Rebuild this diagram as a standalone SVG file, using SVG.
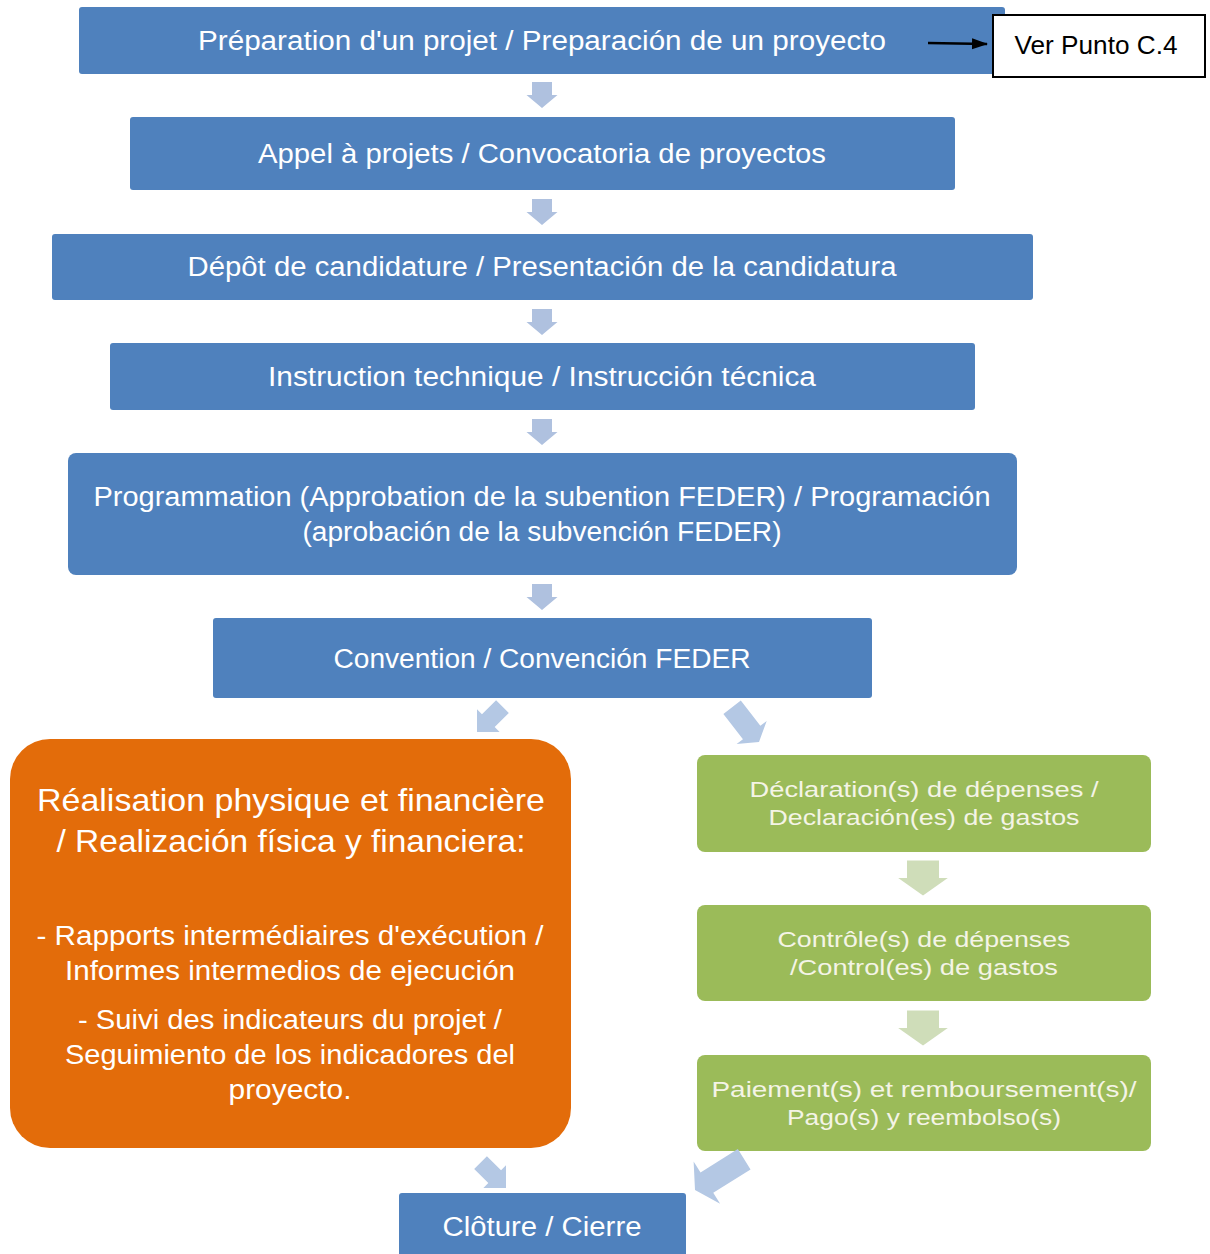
<svg xmlns="http://www.w3.org/2000/svg" width="1210" height="1254" viewBox="0 0 1210 1254">
<defs>
<style>
.blue{fill:#4F81BD}
.green{fill:#9BBB59}
.t{font-family:"Liberation Sans",Arial,sans-serif;fill:#fff;text-anchor:middle}
.tb{font-size:27px}
.to{font-size:32px}
.to2{font-size:27px}
.tg{font-size:22px;fill:#F4F4E6}
.arr{fill:#AFC1DF}
.arrd{fill:#B4C8E4}
.arrg{fill:#CFDDB9}
</style>
<path id="ad" d="M-10,-13 L10,-13 L10,0 L15.5,0 L0,13 L-15.5,0 L-10,0 Z"/>
<marker id="mk" markerWidth="16" markerHeight="12" refX="15" refY="6" orient="auto" markerUnits="userSpaceOnUse">
<path d="M0,0.5 L16,6 L0,11.5 Z" fill="#000"/>
</marker>
</defs>
<rect width="1210" height="1254" fill="#fff"/>

<g id="n1"><rect class="blue" x="79" y="7" width="926" height="67" rx="3"/>
<text class="t tb" x="542" y="50" textLength="688" lengthAdjust="spacingAndGlyphs">Préparation d'un projet / Preparación de un proyecto</text></g>

<g id="nref"><rect x="993" y="15" width="212" height="62" fill="#fff" stroke="#000" stroke-width="2"/>
<text x="1096" y="54" font-family="Liberation Sans, Arial, sans-serif" font-size="26" fill="#000" text-anchor="middle" textLength="163" lengthAdjust="spacingAndGlyphs">Ver Punto C.4</text></g>

<g id="n2"><rect class="blue" x="130" y="117" width="825" height="73" rx="3"/>
<text class="t tb" x="542" y="163" textLength="568" lengthAdjust="spacingAndGlyphs">Appel à projets / Convocatoria de proyectos</text></g>

<g id="n3"><rect class="blue" x="52" y="234" width="981" height="66" rx="3"/>
<text class="t tb" x="542" y="276" textLength="709" lengthAdjust="spacingAndGlyphs">Dépôt de candidature / Presentación de la candidatura</text></g>

<g id="n4"><rect class="blue" x="110" y="343" width="865" height="67" rx="3"/>
<text class="t tb" x="542" y="386" textLength="548" lengthAdjust="spacingAndGlyphs">Instruction technique / Instrucción técnica</text></g>

<g id="n5"><rect class="blue" x="68" y="453" width="949" height="122" rx="8"/>
<text class="t tb" x="542" y="506" textLength="897" lengthAdjust="spacingAndGlyphs">Programmation (Approbation de la subention FEDER) / Programación</text>
<text class="t tb" x="542" y="541" textLength="479" lengthAdjust="spacingAndGlyphs">(aprobación de la subvención FEDER)</text></g>

<g id="n6"><rect class="blue" x="213" y="618" width="659" height="80" rx="3"/>
<text class="t tb" x="542" y="668" textLength="417" lengthAdjust="spacingAndGlyphs">Convention / Convención FEDER</text></g>

<g id="n7"><rect x="10" y="739" width="561" height="409" rx="40" fill="#E36C0A"/>
<text class="t to" x="291" y="811" textLength="508" lengthAdjust="spacingAndGlyphs">Réalisation physique et financière</text>
<text class="t to" x="291" y="852" textLength="469" lengthAdjust="spacingAndGlyphs">/ Realización física y financiera:</text>
<text class="t to2" x="290" y="945" textLength="507" lengthAdjust="spacingAndGlyphs">- Rapports intermédiaires d'exécution /</text>
<text class="t to2" x="290" y="980" textLength="450" lengthAdjust="spacingAndGlyphs">Informes intermedios de ejecución</text>
<text class="t to2" x="290" y="1029" textLength="424" lengthAdjust="spacingAndGlyphs">- Suivi des indicateurs du projet /</text>
<text class="t to2" x="290" y="1064" textLength="450" lengthAdjust="spacingAndGlyphs">Seguimiento de los indicadores del</text>
<text class="t to2" x="290" y="1099" textLength="123" lengthAdjust="spacingAndGlyphs">proyecto.</text></g>

<g id="n8"><rect class="green" x="697" y="755" width="454" height="97" rx="8"/>
<text class="t tg" x="924" y="797" textLength="349" lengthAdjust="spacingAndGlyphs">Déclaration(s) de dépenses /</text>
<text class="t tg" x="924" y="825" textLength="311" lengthAdjust="spacingAndGlyphs">Declaración(es) de gastos</text></g>

<g id="n9"><rect class="green" x="697" y="905" width="454" height="96" rx="8"/>
<text class="t tg" x="924" y="947" textLength="293" lengthAdjust="spacingAndGlyphs">Contrôle(s) de dépenses</text>
<text class="t tg" x="924" y="975" textLength="268" lengthAdjust="spacingAndGlyphs">/Control(es) de gastos</text></g>

<g id="n10"><rect class="green" x="697" y="1055" width="454" height="96" rx="8"/>
<text class="t tg" x="924" y="1097" textLength="425" lengthAdjust="spacingAndGlyphs">Paiement(s) et remboursement(s)/</text>
<text class="t tg" x="924" y="1125" textLength="274" lengthAdjust="spacingAndGlyphs">Pago(s) y reembolso(s)</text></g>

<g id="n11"><rect class="blue" x="399" y="1193" width="287" height="70" rx="3"/>
<text class="t tb" x="542" y="1236" textLength="199" lengthAdjust="spacingAndGlyphs">Clôture / Cierre</text></g>

<g id="connectors">
<use href="#ad" class="arr" transform="translate(542,95)"/>
<use href="#ad" class="arr" transform="translate(542,212)"/>
<use href="#ad" class="arr" transform="translate(542,322)"/>
<use href="#ad" class="arr" transform="translate(542,432)"/>
<use href="#ad" class="arr" transform="translate(542,597)"/>
<path class="arrd" transform="translate(477,732) rotate(45)" d="M-9,-36 L9,-36 L9,-16 L16,-16 L0,0 L-16,-16 L-9,-16 Z"/>
<path class="arrd" transform="translate(759,742) rotate(-37.7)" d="M-11,-44 L11,-44 L11,-12 L19,-12 L0,0 L-19,-12 L-11,-12 Z"/>
<path class="arrd" transform="translate(506,1188) rotate(-45)" d="M-9,-36 L9,-36 L9,-16 L16,-16 L0,0 L-16,-16 L-9,-16 Z"/>
<path class="arrd" transform="translate(695,1190) rotate(58)" d="M-12,-58 L12,-58 L12,-14 L25,-14 L0,0 L-25,-14 L-12,-14 Z"/>
<use href="#ad" class="arrg" transform="translate(923,878) scale(1.6,1.35)"/>
<use href="#ad" class="arrg" transform="translate(923,1028) scale(1.6,1.35)"/>
<line x1="928" y1="43" x2="987" y2="44" stroke="#000" stroke-width="2.5" marker-end="url(#mk)"/>
</g>
</svg>
